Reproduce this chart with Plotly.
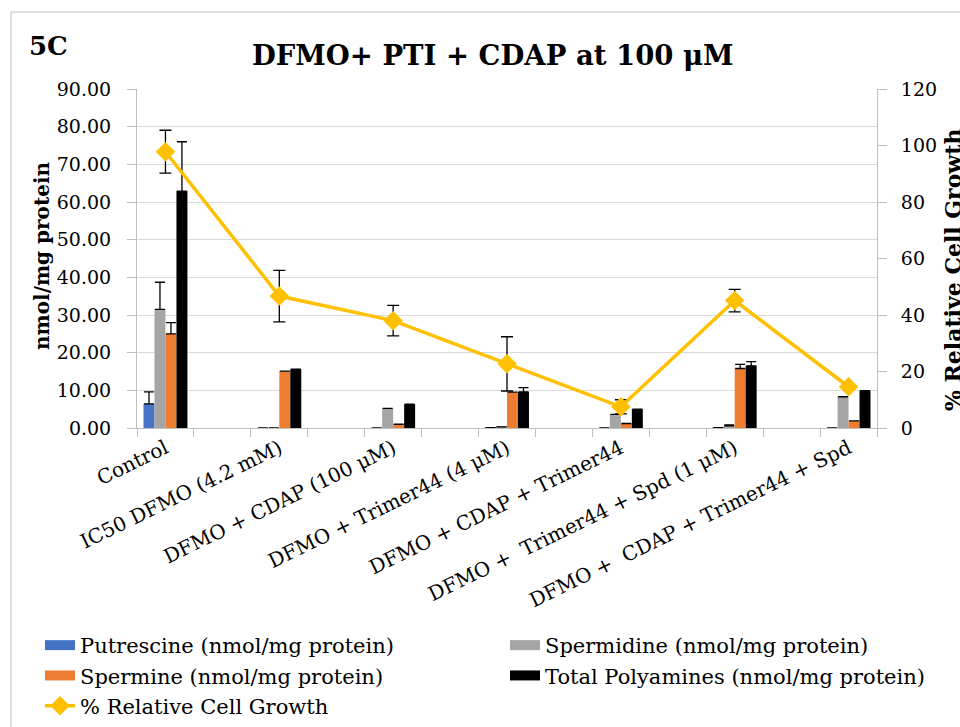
import plotly.graph_objects as go

categories = ["Control", "IC50 DFMO (4.2 mM)", "DFMO + CDAP (100 μM)", "DFMO + Trimer44 (4 μM)",
              "DFMO + CDAP + Trimer44", "DFMO +  Trimer44 + Spd (1 μM)", "DFMO +  CDAP + Trimer44 + Spd"]
putrescine = [6.4, 0.0, 0.0, 0.1, 0.0, 0.1, 0.0]
putrescine_err = [3.2, None, None, None, None, None, None]
spermidine = [31.5, 0.0, 5.2, 0.3, 3.6, 0.6, 8.3]
spermidine_err = [7.2, None, None, None, None, 0.2, None]
spermine = [25.0, 15.1, 1.0, 9.5, 1.2, 15.8, 1.9]
spermine_err = [3.0, None, None, None, None, 1.1, None]
total = [62.9, 15.6, 6.3, 9.6, 5.0, 16.5, 9.9]
total_err = [13.1, None, None, 1.1, None, 1.1, None]
growth = [97.8, 46.7, 38.0, 22.7, 7.5, 45.1, 14.6]
growth_err = [7.6, 9.1, 5.4, 9.6, 2.5, 4.0, None]

series_names = ["Putrescine (nmol/mg protein)", "Spermidine (nmol/mg protein)",
                "Spermine (nmol/mg protein)", "Total Polyamines (nmol/mg protein)"]
colors = ["#4472C4", "#A5A5A5", "#ED7D31", "#000000"]
legend_slots = ["legend", "legend2", "legend", "legend2"]
line_color = "#FFC000"
FONT = "DejaVu Serif"

# categories occupy every other slot on the category axis
xpos = [2 * i for i in range(len(categories))]

W, H = 960, 727
L, R, T, B = 137, 83, 89, 299
pw, ph = W - L - R, H - T - B

def px(x):
    return (x - L) / pw

def py(y):
    return (H - B - y) / ph

fig = go.Figure()
for name, vals, errs, col in zip(series_names, [putrescine, spermidine, spermine, total],
                                 [putrescine_err, spermidine_err, spermine_err, total_err], colors):
    fig.add_trace(go.Bar(
        x=xpos, y=vals, name=name, marker_color=col, marker_line_width=0, showlegend=False,
        error_y=dict(type="data", array=errs, arrayminus=[0 if e is not None else None for e in errs],
                     symmetric=False, color="#000000", thickness=1.3, width=5, visible=True),
    ))

# legend entries drawn as wide blocks (left column, then right column)
for name, col, lg in zip(series_names, colors, legend_slots):
    fig.add_trace(go.Scatter(x=[None], y=[None], mode="lines", name=name, legend=lg,
                             line=dict(color=col, width=15)))

fig.add_trace(go.Scatter(
    x=xpos, y=growth, yaxis="y2", mode="lines+markers", name="% Relative Cell Growth", legend="legend",
    line=dict(color=line_color, width=3.5),
    marker=dict(symbol="diamond", size=15, color=line_color),
    error_y=dict(type="data", array=growth_err, color="#000000", thickness=1.3, width=6),
))

legend_common = dict(orientation="v", xanchor="left", yanchor="top", itemwidth=30,
                     font=dict(family=FONT, size=21), bgcolor="rgba(0,0,0,0)",
                     tracegroupgap=0, traceorder="normal")

fig.update_layout(
    width=W, height=H,
    margin=dict(l=L, r=R, t=T, b=B, autoexpand=False),
    paper_bgcolor="white", plot_bgcolor="white",
    barmode="group", bargap=0.614, bargroupgap=0,
    font=dict(family=FONT, size=19, color="#000000"),
    xaxis=dict(
        range=[-0.5, 2 * len(categories) - 1.5], automargin=False,
        tickmode="array", tickvals=xpos, ticktext=categories, tickangle=-26,
        ticks="", showgrid=False, zeroline=False,
        showline=True, linecolor="#BFBFBF", linewidth=1,
        tickfont=dict(family=FONT, size=20),
        minor=dict(tick0=-0.5, dtick=1, ticks="outside", ticklen=8, tickcolor="#BFBFBF", showgrid=False),
    ),
    yaxis=dict(
        range=[0, 90], dtick=10, tickformat=".2f", automargin=False,
        ticks="outside", ticklen=9, tickcolor="#BFBFBF", ticklabelstandoff=12,
        showgrid=True, gridcolor="#D9D9D9", gridwidth=1, zeroline=False,
        showline=True, linecolor="#BFBFBF", linewidth=1,
        tickfont=dict(family=FONT, size=19),
    ),
    yaxis2=dict(
        range=[0, 120], dtick=20, overlaying="y", side="right", automargin=False,
        ticks="outside", ticklen=9, tickcolor="#BFBFBF", ticklabelstandoff=10,
        showgrid=False, zeroline=False,
        showline=True, linecolor="#BFBFBF", linewidth=1,
        tickfont=dict(family=FONT, size=19),
    ),
    legend=dict(x=px(40), y=py(625), **legend_common),
    legend2=dict(x=px(505), y=py(625), **legend_common),
    annotations=[
        dict(text="<b>DFMO+ PTI + CDAP at 100 μM</b>", xref="paper", yref="paper",
             x=px(493), y=py(55), xanchor="center", yanchor="middle", showarrow=False,
             font=dict(family=FONT, size=27.5)),
        dict(text="<b>5C</b>", xref="paper", yref="paper",
             x=px(27), y=py(46), xanchor="left", yanchor="middle", showarrow=False,
             font=dict(family=FONT, size=26)),
        dict(text="<b>nmol/mg protein</b>", xref="paper", yref="paper",
             x=px(42), y=py(256), xanchor="center", yanchor="middle", showarrow=False,
             textangle=-90, font=dict(family=FONT, size=20)),
        dict(text="<b>% Relative Cell Growth</b>", xref="paper", yref="paper",
             x=px(953), y=py(270), xanchor="center", yanchor="middle", showarrow=False,
             textangle=-90, font=dict(family=FONT, size=22)),
    ],
    shapes=[
        dict(type="rect", xref="paper", yref="paper", x0=px(11), y0=py(12), x1=px(1000), y1=py(760),
             line=dict(color="#BFBFBF", width=1), fillcolor="rgba(0,0,0,0)", layer="below"),
    ],
)

fig.write_html("out.html")
